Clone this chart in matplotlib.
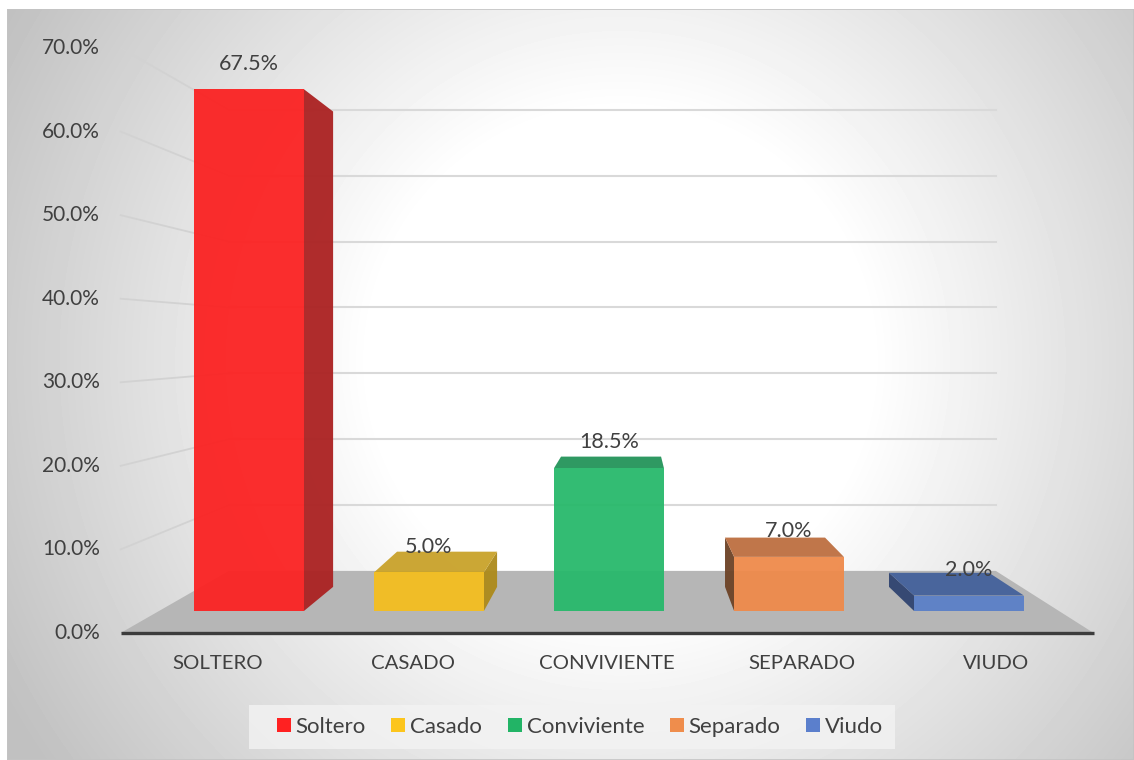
import numpy as np
import matplotlib.pyplot as plt
from matplotlib.patches import Polygon, Patch, Rectangle

plt.rcParams['font.family'] = ['Lato', 'DejaVu Sans']

categorias = ['SOLTERO', 'CASADO', 'CONVIVIENTE', 'SEPARADO', 'VIUDO']
leyenda = ['Soltero', 'Casado', 'Conviviente', 'Separado', 'Viudo']
porcentajes = [67.5, 5.0, 18.5, 7.0, 2.0]
ticks = [0, 10, 20, 30, 40, 50, 60, 70]

col_frente = ['#fb2222', '#f4be1f', '#28b96b', '#ef8a4b', '#5a80c7']
col_lado = ['#ab2121', '#ad8a1a', '#1f8a50', '#6d4226', '#2f4370']
col_tapa = ['#c02424', '#c9a22a', '#24945a', '#bd6f40', '#43619b']
col_leyenda = ['#ff2121', '#fcc51c', '#22b466', '#ef8d4c', '#5b7fcc']

# fake 3D: vanishing point (data coords) and depth scale of each plane
XV, YV = 2.128, 35.06
S_FRONT, S_BAR, S_BACK, S_WALL = 1.081, 1.0, 0.911, 0.852
ANCHO = 0.61
TXT = '#404040'


def proj(x, y, s):
    return XV + (x - XV) * s, YV + (y - YV) * s


fig = plt.figure(figsize=(11.34, 7.6), dpi=100, facecolor='white')

# radial gradient background
bg = fig.add_axes([7 / 1134, 0, 1127 / 1134, 751 / 760])
h, w = 751, 1127
yy, xx = np.mgrid[0:h, 0:w]
r = np.hypot(xx + 7 - 620, yy + 9 - 360)
t = np.clip((r - 250) / 450, 0, 1)
bg.imshow((255 - 62 * t) / 255, cmap='gray', vmin=0, vmax=1,
          extent=(0, 1, 0, 1), aspect='auto', origin='upper')
bg.add_patch(Rectangle((0, 0), 1, 1, transform=bg.transAxes, fill=False,
                       edgecolor='#c4c4c4', lw=1.2))
bg.axis('off')

ax = fig.add_axes([0, 0, 1, 1])
ax.patch.set_alpha(0)
ax.set_xlim(-249 / 180, (1134 - 249) / 180)
ax.set_ylim((611 - 760) / 7.73, 611 / 7.73)
ax.axis('off')

n = len(categorias)
x0, x1 = -0.5, n - 0.5

# floor
floor = [proj(x0, 0, S_FRONT), proj(x1, 0, S_FRONT), proj(x1, 0, S_WALL), proj(x0, 0, S_WALL)]
ax.add_patch(Polygon(floor, closed=True, facecolor='#b6b6b6', edgecolor='none', zorder=2))

# back wall gridlines + side wall lines
for v in ticks[1:]:
    a = proj(x0, v, S_WALL)
    b = proj(x1, v, S_WALL)
    ax.plot([a[0], b[0]], [a[1], b[1]], color='#d9d9d9', lw=1.5, zorder=1)
    c = proj(x0, v, S_FRONT)
    ax.plot([c[0], a[0]], [c[1], a[1]], color='#d2d2d2', lw=1.3, zorder=1)

# front edge of floor
fa = proj(x0, 0, S_FRONT)
fb = proj(x1, 0, S_FRONT)
ax.plot([fa[0], fb[0]], [fa[1], fb[1]], color='#3c3c3c', lw=2.4, zorder=3,
        solid_capstyle='butt')

# y labels
for v in ticks:
    x, y = proj(x0, v, S_FRONT)
    ax.annotate(f'{v:.1f}%', (x, y), xytext=(-15, 0), textcoords='offset points',
                ha='right', va='center', fontsize=15, color=TXT)

# category labels
for i, cat in enumerate(categorias):
    x, y = proj(i, 0, S_FRONT)
    ax.annotate(cat, (x, y), xytext=(0, -22), textcoords='offset points',
                ha='center', va='center', fontsize=14.7, color=TXT)

# bars
for i, v in enumerate(porcentajes):
    xl, xr = i - ANCHO / 2, i + ANCHO / 2
    if xr < XV:
        lado = [proj(xr, 0, S_BAR), proj(xr, v, S_BAR), proj(xr, v, S_BACK), proj(xr, 0, S_BACK)]
        ax.add_patch(Polygon(lado, facecolor=col_lado[i], edgecolor='none', alpha=0.95, zorder=4))
    if xl > XV:
        lado = [proj(xl, 0, S_BAR), proj(xl, v, S_BAR), proj(xl, v, S_BACK), proj(xl, 0, S_BACK)]
        ax.add_patch(Polygon(lado, facecolor=col_lado[i], edgecolor='none', alpha=0.95, zorder=4))
    if v < YV:
        tapa = [proj(xl, v, S_BAR), proj(xr, v, S_BAR), proj(xr, v, S_BACK), proj(xl, v, S_BACK)]
        ax.add_patch(Polygon(tapa, facecolor=col_tapa[i], edgecolor='none', alpha=0.95, zorder=4))
    ax.bar(i, v, width=ANCHO, color=col_frente[i], alpha=0.95, zorder=5)
    ax.text(i, v + 3.3, f'{v:.1f}%', ha='center', va='center', fontsize=15.5,
            color=TXT, zorder=7)

# legend box drawn by hand, legend itself without frame
fig.patches.append(Rectangle((249 / 1134, 1 - 749 / 760), 646 / 1134, 44 / 760,
                             transform=fig.transFigure, facecolor='#f3f3f3',
                             edgecolor='none', alpha=0.8, zorder=0))
handles = [Patch(facecolor=c, edgecolor='none') for c in col_leyenda]
fig.legend(handles, leyenda, loc='center', bbox_to_anchor=(580 / 1134, 1 - 727 / 760),
           ncol=5, fontsize=16, frameon=False, handlelength=0.63, handleheight=0.63,
           handletextpad=0.22, columnspacing=1.15, borderpad=0.2, labelcolor=TXT)

fig.savefig('out.png', dpi=100, facecolor='white')
